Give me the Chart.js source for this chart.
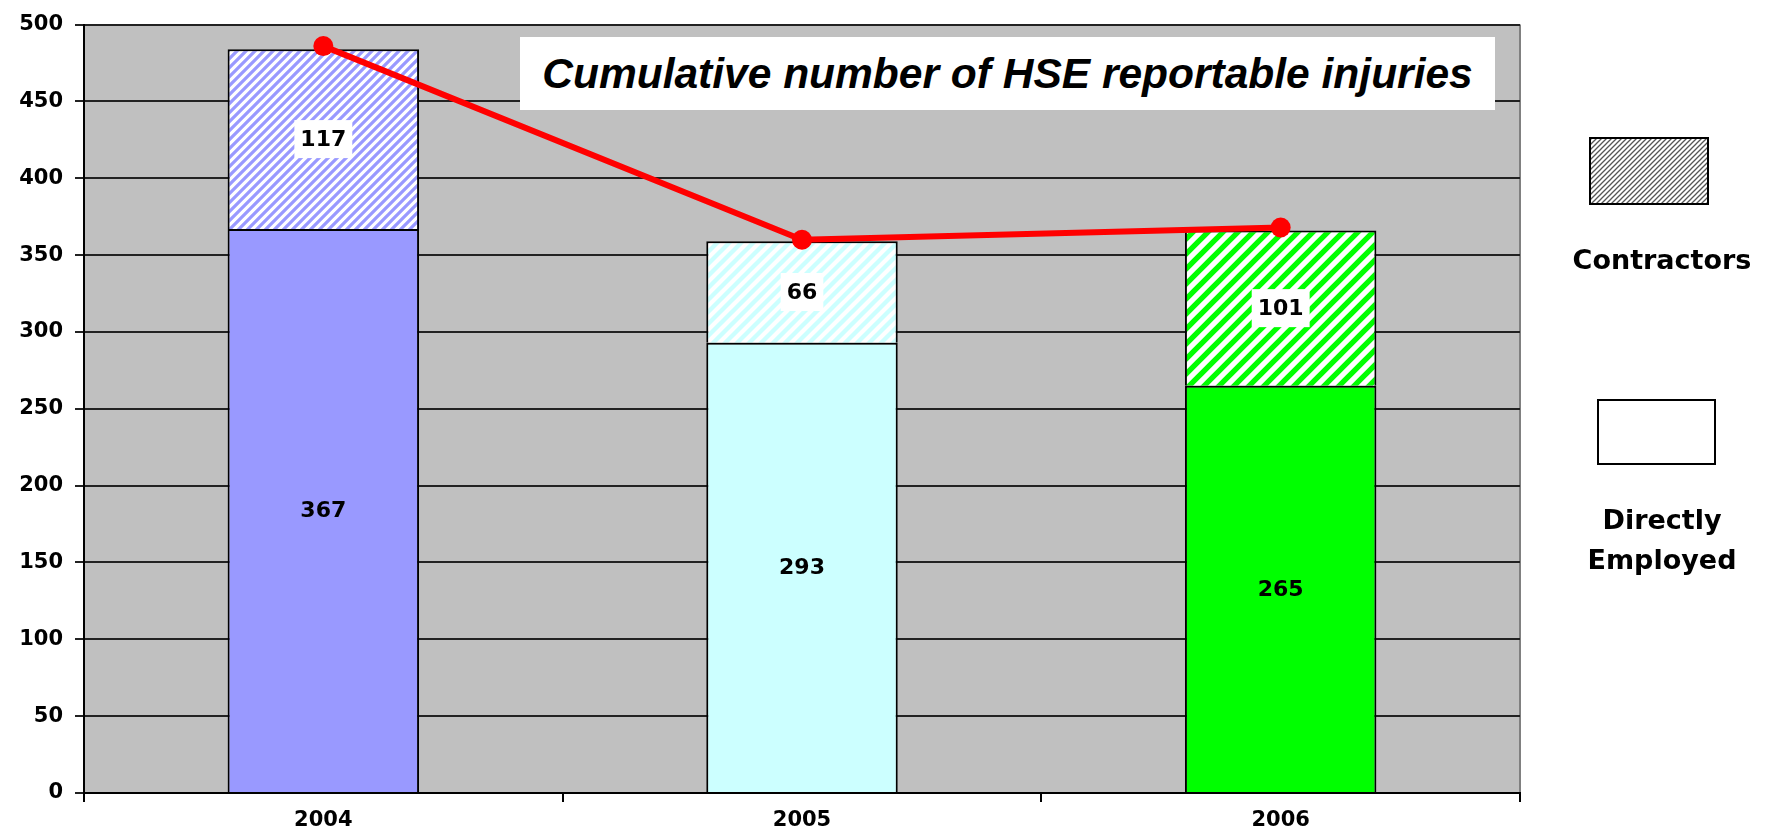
<!DOCTYPE html>
<html>
<head>
<meta charset="utf-8">
<title>Cumulative number of HSE reportable injuries</title>
<script src="https://cdn.jsdelivr.net/npm/chart.js@4.4.1/dist/chart.umd.min.js"></script>
<style>
    html, body { margin: 0; padding: 0; background: #fff; }
    #wrap { position: relative; width: 1766px; height: 838px; overflow: hidden; }
    #injury-chart { position: absolute; left: 0; top: 0; }
    .chart-title {
        position: absolute; left: 520px; top: 37px; width: 975px; height: 73px;
        background: #fff; color: #000;
        font: italic bold 42.5px "Liberation Sans", Arial, sans-serif;
        display: flex; align-items: center; justify-content: center;
    }
    .legend-box { position: absolute; border: 2px solid #000; box-sizing: border-box; background: #fff; }
    .legend-label {
        position: absolute; width: 200px; text-align: center;
        font: bold 27px "DejaVu Sans", sans-serif; line-height: 40px; color: #000;
    }
</style>
</head>
<body>
<div id="wrap">
    <canvas id="injury-chart" width="1766" height="838"></canvas>
    <div class="chart-title" id="chart-title"></div>
    <div id="legend"></div>
</div>
<script>
const years = ['2004', '2005', '2006'];
const directlyEmployed = [367, 293, 265];
const contractors = [117, 66, 101];
const cumulativeLine = [486, 360, 368];
const yTicks = [0, 50, 100, 150, 200, 250, 300, 350, 400, 450, 500];
const seriesNames = ['Directly Employed', 'Contractors'];
const titleText = 'Cumulative number of HSE reportable injuries';

const solidColors = ['#9999FF', '#CCFFFF', '#00FF00'];
const stripeSizes = [9, 12, 15];

document.addEventListener('DOMContentLoaded', () => {
    const chartCtx = document.getElementById('injury-chart').getContext('2d');
    document.getElementById('chart-title').textContent = titleText;

    function makeHatch(ctx, color, size, width) {
        const c = document.createElement('canvas');
        c.width = size;
        c.height = size;
        const p = c.getContext('2d');
        p.fillStyle = '#fff';
        p.fillRect(0, 0, size, size);
        p.strokeStyle = color;
        p.lineWidth = width;
        p.beginPath();
        p.moveTo(0, size); p.lineTo(size, 0);
        p.moveTo(-2, 2); p.lineTo(2, -2);
        p.moveTo(size - 2, size + 2); p.lineTo(size + 2, size - 2);
        p.stroke();
        return ctx.createPattern(c, 'repeat');
    }

    // legend on the right, hatched box = contractors, plain box = direct
    const legend = document.getElementById('legend');
    legend.innerHTML = `
        <canvas class="legend-box" id="legend-hatch" width="116" height="64" style="left:1589px;top:137px;width:120px;height:68px"></canvas>
        <div class="legend-label" style="left:1562px;top:240px">${seriesNames[1]}</div>
        <div class="legend-box" style="left:1597px;top:399px;width:119px;height:66px"></div>
        <div class="legend-label" style="left:1562px;top:500px">${seriesNames[0]}</div>
    `;
    const hatchCtx = document.getElementById('legend-hatch').getContext('2d');
    hatchCtx.fillStyle = makeHatch(hatchCtx, '#555', 5, 1.3);
    hatchCtx.fillRect(0, 0, 116, 64);

    const hatches = solidColors.map((col, i) => makeHatch(chartCtx, col, stripeSizes[i], stripeSizes[i] * 0.36));

    const plotBackground = {
        id: 'plotBackground',
        beforeDraw(chart) {
            const { ctx, chartArea: a } = chart;
            ctx.save();
            ctx.fillStyle = '#C0C0C0';
            ctx.fillRect(a.left, a.top, a.right - a.left, a.bottom - a.top);
            ctx.strokeStyle = '#808080';
            ctx.lineWidth = 2;
            ctx.beginPath();
            ctx.moveTo(a.right, a.top);
            ctx.lineTo(a.right, a.bottom);
            ctx.stroke();
            ctx.restore();
        }
    };

    const barLabels = {
        id: 'barLabels',
        afterDatasetsDraw(chart) {
            const ctx = chart.ctx;
            ctx.save();
            ctx.font = 'bold 22px "DejaVu Sans"';
            ctx.textAlign = 'center';
            ctx.textBaseline = 'middle';
            chart.data.datasets.forEach((ds, i) => {
                if (ds.type === 'line') return;
                const meta = chart.getDatasetMeta(i);
                meta.data.forEach((bar, j) => {
                    const text = String(ds.data[j]);
                    const y = (bar.y + bar.base) / 2;
                    if (ds.labelBox) {
                        const w = ctx.measureText(text).width + 12;
                        ctx.fillStyle = '#fff';
                        ctx.fillRect(bar.x - w / 2, y - 19, w, 38);
                    }
                    ctx.fillStyle = '#000';
                    ctx.fillText(text, bar.x, y + 1);
                });
            });
            ctx.restore();
        }
    };

    new Chart(chartCtx, {
        data: {
            labels: years,
            datasets: [
                {
                    type: 'line',
                    label: 'Total',
                    data: cumulativeLine,
                    borderColor: '#FF0000',
                    backgroundColor: '#FF0000',
                    borderWidth: 6,
                    pointRadius: 10,
                    pointBackgroundColor: '#FF0000',
                    pointBorderWidth: 0,
                    stack: 'line',
                    order: 0
                },
                {
                    type: 'bar',
                    label: seriesNames[0],
                    data: directlyEmployed,
                    backgroundColor: solidColors,
                    borderColor: '#000',
                    borderWidth: 2,
                    stack: 'injuries',
                    order: 1
                },
                {
                    type: 'bar',
                    label: seriesNames[1],
                    data: contractors,
                    backgroundColor: hatches,
                    borderColor: '#000',
                    borderWidth: 2,
                    stack: 'injuries',
                    labelBox: true,
                    order: 1
                }
            ]
        },
        options: {
            responsive: false,
            animation: false,
            devicePixelRatio: 1,
            layout: { padding: { left: 0, right: 246, top: 19, bottom: 0 } },
            datasets: { bar: { barPercentage: 0.4, categoryPercentage: 1 } },
            plugins: { legend: { display: false }, tooltip: { enabled: false } },
            scales: {
                x: {
                    stacked: true,
                    afterFit: (s) => { s.height = 45; },
                    border: { display: true, color: '#000', width: 2 },
                    grid: { offset: true, drawOnChartArea: false, tickLength: 9, color: '#000', lineWidth: 2 },
                    ticks: { color: '#000', padding: 6, font: { family: 'DejaVu Sans', size: 21, weight: 'bold' } }
                },
                y: {
                    stacked: true,
                    min: 0,
                    max: 500,
                    afterFit: (s) => { s.width = 84; },
                    afterBuildTicks: (s) => { s.ticks = yTicks.map(v => ({ value: v })); },
                    border: { display: true, color: '#000', width: 2 },
                    grid: { color: '#222', lineWidth: 2, tickLength: 9 },
                    ticks: { color: '#000', padding: 12, font: { family: 'DejaVu Sans', size: 21, weight: 'bold' } }
                }
            }
        },
        plugins: [plotBackground, barLabels]
    });
});
</script>
</body>
</html>
